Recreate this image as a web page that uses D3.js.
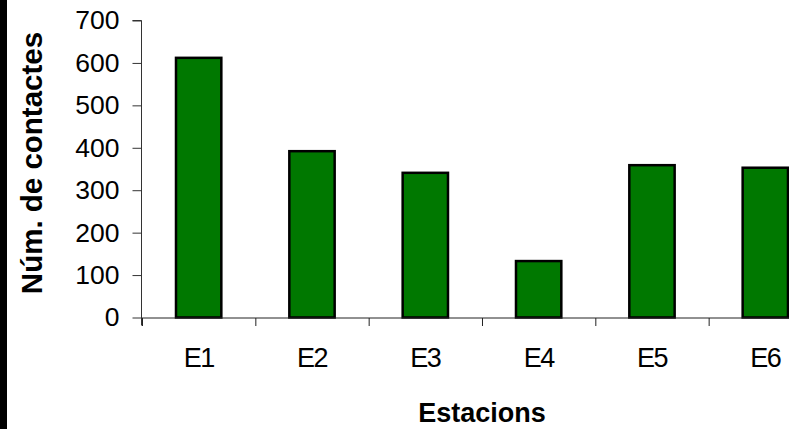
<!DOCTYPE html>
<html>
<head>
<meta charset="utf-8">
<script src="https://cdn.jsdelivr.net/npm/d3@7"></script>
<style>
  body { margin: 0; background: #fff; }
  svg { display: block; font-family: Arial, "Liberation Sans", sans-serif; }
</style>
</head>
<body>
<div id="bar_chart"></div>
<script>
var categories = ["E1", "E2", "E3", "E4", "E5", "E6"];
var contactes = [612, 392, 341, 133, 359, 353];
var yTicks = [0, 100, 200, 300, 400, 500, 600, 700];

plot_bar_graph(contactes, "#bar_chart");

function plot_bar_graph (dataArray, htmlObjectId) {
    var width = 789;
    var height = 429;
    var left = 142, top = 20.5, bottom = 317.5;
    var plotRight = 142 + 6 * 113.33;

    var canvas = d3.select(htmlObjectId)
                    .append("svg")
                    .attr("width", width)
                    .attr("height", height);

    canvas.append("rect")
        .attr("width", width).attr("height", height)
        .attr("fill", "#fff");

    // black strip on the left edge
    canvas.append("rect")
        .attr("x", 0).attr("y", 0)
        .attr("width", 7).attr("height", height)
        .attr("fill", "#000");

    var yScale = d3.scaleLinear()
                    .domain([0, 700])
                    .range([bottom, top]);

    var xScale = d3.scaleBand()
                    .domain(categories)
                    .range([left, plotRight])
                    .paddingInner(0.6)
                    .paddingOuter(0.3);

    var tickScale = d3.scaleLinear()
                    .domain([0, categories.length])
                    .range([left, plotRight]);

    // y axis
    var yAxis = d3.axisLeft(yScale)
                .tickValues(yTicks)
                .tickSize(9)
                .tickPadding(13);

    var gy = canvas.append("g")
        .attr("transform", "translate(" + (left - 0.5) + ",0)")
        .call(yAxis);
    gy.selectAll("path, line").attr("stroke", "#333").attr("stroke-width", 1);
    gy.select(".domain").attr("d", "M-9," + top + "H0V" + (bottom + 8));
    gy.selectAll("text")
        .attr("font-size", "26.5px")
        .attr("font-family", "Arial, 'Liberation Sans', sans-serif")
        .attr("fill", "#000");

    // bars
    canvas.selectAll("rect.bar")
        .data(dataArray)
        .enter()
            .append("rect")
            .attr("class", "bar")
            .attr("x", function(d, i) { return xScale(categories[i]); })
            .attr("y", function(d) { return yScale(d); })
            .attr("width", xScale.bandwidth())
            .attr("height", function(d) { return bottom - yScale(d); })
            .attr("fill", "#007800")
            .attr("stroke", "#000")
            .attr("stroke-width", 2.5);

    // x axis
    var xAxis = d3.axisBottom(tickScale)
                .tickValues(d3.range(categories.length + 1))
                .tickSize(8)
                .tickFormat("");

    var gx = canvas.append("g")
        .attr("transform", "translate(0," + (bottom + 0.5) + ")")
        .call(xAxis);
    gx.selectAll("path, line").attr("stroke", "#222").attr("stroke-width", 1);
    gx.select(".domain").attr("d", "M" + left + ",0H" + plotRight);

    canvas.selectAll("text.xlab")
        .data(categories)
        .enter()
            .append("text")
            .attr("class", "xlab")
            .attr("x", function(d) { return xScale(d) + xScale.bandwidth() / 2; })
            .attr("y", 367)
            .attr("text-anchor", "middle")
            .attr("font-size", "27px")
            .attr("letter-spacing", "-1.5px")
            .text(function(d) { return d; });

    // axis titles
    canvas.append("text")
        .attr("x", (left + plotRight) / 2)
        .attr("y", 422)
        .attr("text-anchor", "middle")
        .attr("font-size", "27px")
        .attr("font-weight", "bold")
        .text("Estacions");

    canvas.append("text")
        .attr("transform", "translate(42," + 163 + ") rotate(-90)")
        .attr("text-anchor", "middle")
        .attr("font-size", "29.5px")
        .attr("font-weight", "bold")
        .text("Núm. de contactes");
}
</script>
</body>
</html>
